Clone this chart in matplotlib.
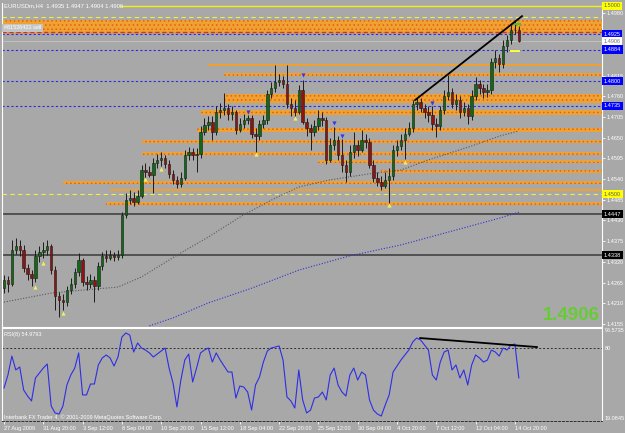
import matplotlib
matplotlib.use("Agg")
import matplotlib.pyplot as plt
import numpy as np
from matplotlib.transforms import blended_transform_factory

plt.rcParams['font.family'] = ['Liberation Sans', 'DejaVu Sans']
plt.rcParams['hatch.linewidth'] = 0.6

# EURUSDm H4 bars, prices written as pips above 1.4000 (price = 1.4 + pips/10000)
first_open_pips = 250
close_pips = [272, 261, 352, 362, 352, 304, 288, 277, 336, 346, 352, 362, 298, 229, 219, 213,
              245, 261, 293, 325, 266, 261, 272, 256, 309, 336, 330, 338, 333, 338, 444, 484,
              490, 479, 495, 564, 559, 551, 583, 591, 596, 580, 554, 538, 527, 543, 604, 612,
              604, 607, 665, 684, 692, 665, 718, 724, 729, 713, 718, 670, 686, 697, 702, 660,
              654, 686, 697, 766, 782, 798, 803, 793, 740, 729, 718, 777, 692, 676, 665, 681,
              702, 697, 591, 631, 644, 604, 577, 559, 612, 631, 617, 644, 639, 577, 543, 532,
              522, 538, 548, 617, 628, 644, 660, 676, 740, 745, 729, 718, 710, 686, 681, 724,
              761, 771, 740, 750, 718, 729, 708, 761, 793, 782, 771, 777, 851, 862, 846, 894,
              910, 936, 935, 906]
high_pips = [285, 282, 378, 383, 378, 365, 314, 298, 352, 362, 373, 378, 367, 309, 240, 235,
             256, 277, 304, 344, 330, 282, 288, 282, 320, 346, 352, 352, 346, 352, 452, 503,
             511, 506, 511, 577, 583, 575, 596, 607, 612, 604, 591, 564, 548, 559, 617, 625,
             623, 623, 681, 702, 708, 708, 734, 742, 769, 740, 734, 724, 702, 713, 710, 710,
             676, 697, 710, 777, 798, 843, 819, 814, 843, 755, 750, 790, 803, 702, 686, 697,
             724, 718, 705, 649, 678, 654, 647, 591, 631, 665, 644, 670, 660, 649, 591, 559,
             548, 559, 569, 631, 644, 660, 676, 692, 750, 755, 755, 740, 734, 734, 702, 734,
             777, 817, 782, 766, 761, 745, 740, 777, 811, 803, 793, 793, 862, 883, 872, 910,
             923, 949, 963, 947]
low_pips = [237, 240, 256, 341, 336, 293, 272, 256, 266, 320, 330, 338, 288, 192, 174, 192,
            203, 235, 250, 282, 256, 245, 250, 213, 245, 298, 320, 325, 322, 325, 330, 436,
            474, 468, 474, 490, 543, 545, 503, 569, 575, 569, 543, 527, 516, 519, 538, 591,
            591, 559, 596, 657, 670, 644, 657, 702, 710, 697, 697, 660, 665, 676, 686, 649,
            612, 644, 676, 686, 755, 771, 787, 782, 729, 708, 708, 713, 686, 654, 617, 654,
            670, 681, 580, 585, 617, 591, 559, 532, 548, 596, 601, 612, 623, 569, 532, 522,
            511, 516, 476, 538, 601, 617, 593, 654, 665, 724, 718, 702, 692, 670, 652, 670,
            713, 750, 729, 724, 702, 708, 686, 697, 750, 766, 755, 758, 766, 835, 825, 835,
            878, 899, 926, 904]

rsi_values = [46.6, 57.4, 73.2, 61.6, 64.1, 44.9, 39.9, 35.8, 54.9, 59.1, 63.2, 66.6, 31.6, 25.8,
              24.9, 31.6, 49.1, 57.4, 63.2, 75.8, 40.8, 40.8, 49.9, 49.9, 65.8, 71.6, 74.1, 71.6,
              64.9, 72.4, 89.1, 92.4, 90.7, 76.6, 84.1, 79.9, 78.2, 75.8, 72.4, 74.9, 77.4, 79.9,
              63.2, 50.8, 30.8, 53.2, 69.9, 74.9, 51.6, 63.2, 75.8, 78.2, 79.9, 68.2, 75.8, 69.9,
              64.9, 59.9, 59.9, 38.2, 48.2, 47.4, 43.2, 28.2, 49.1, 55.7, 68.2, 77.4, 79.9, 80.7,
              81.6, 69.9, 39.1, 35.8, 29.9, 61.6, 36.6, 25.8, 28.2, 38.2, 39.1, 43.2, 36.6, 57.4,
              63.2, 49.1, 43.2, 39.9, 57.4, 63.2, 53.2, 59.9, 57.4, 36.6, 28.2, 24.9, 23.2, 32.4,
              40.8, 59.9, 64.9, 69.9, 74.1, 78.2, 84.9, 88.2, 86.6, 82.4, 78.2, 57.4, 53.2, 68.2,
              76.6, 78.2, 61.6, 65.8, 54.9, 61.6, 49.1, 65.8, 74.1, 71.6, 68.2, 69.9, 78.2, 76.6,
              73.2, 79.9, 78.2, 82.4, 83.2, 54.98]

# moving averages read at a few bars
ma_gray_bars = [0, 12, 20, 29, 35, 45, 52, 60, 68, 75, 83, 93, 101, 108, 119, 126, 131]
ma_gray = [1.4213, 1.4237, 1.4245, 1.4253, 1.4280, 1.4344, 1.4386, 1.4439, 1.4484, 1.4519,
           1.4538, 1.4554, 1.4564, 1.4591, 1.4628, 1.4654, 1.4668]
ma_blue_bars = [37, 43, 52, 63, 75, 88, 101, 113, 126, 131]
ma_blue = [1.4150, 1.4171, 1.4211, 1.4250, 1.4298, 1.4336, 1.4365, 1.4399, 1.4436, 1.4452]

# support / resistance zones: (low, high, first bar)
zones = [(1.4928, 1.4963, -1), (1.4840, 1.4847, 52), (1.4814, 1.4821, 56),
         (1.4742, 1.4766, 56), (1.4710, 1.4724, 50), (1.4665, 1.4676, 49),
         (1.4636, 1.4644, 35), (1.4604, 1.4612, 35), (1.4583, 1.4591, 80),
         (1.4557, 1.4564, 96), (1.4528, 1.4535, 15), (1.4507, 1.4514, 27),
         (1.4471, 1.4480, 26)]
blue_levels = [1.4925, 1.4884, 1.4800, 1.4735]
dark_levels = [1.4447, 1.4338]
yellow_dash_levels = [1.4971, 1.4500]
order_level = 1.4931
bid = 1.4906

fractal_low_bars = [8, 10, 15, 36, 40, 64, 74, 98, 102]
fractal_low_prices = [1.4253, 1.4317, 1.4184, 1.4540, 1.4567, 1.4607, 1.4702, 1.4471, 1.4585]
fractal_high_bars = [62, 76, 84, 86, 109]
fractal_high_prices = [1.4718, 1.4817, 1.4689, 1.4654, 1.4742]

trend_bars = [104.6, 131.8]
trend_prices = [1.4750, 1.4973]
rsi_trend_bars = [105.9, 135.6]
rsi_trend_vals = [88.2, 80.7]

# scale labels not covered by a highlighted price box
price_ticks = [1.4980, 1.4815, 1.4760, 1.4705, 1.4650, 1.4595, 1.4540,
               1.4485, 1.4430, 1.4375, 1.4320, 1.4265, 1.4210, 1.4155]
date_bars = list(range(0, 131, 10))
date_labels = ['27 Aug 2009', '31 Aug 20:00', '3 Sep 12:00', '8 Sep 04:00', '10 Sep 20:00',
               '15 Sep 12:00', '18 Sep 04:00', '22 Sep 20:00', '25 Sep 12:00', '30 Sep 04:00',
               '4 Oct 20:00', '7 Oct 12:00', '12 Oct 04:00', '14 Oct 20:00']

bg = '#a8a8a8'
closes = 1.4 + np.array(close_pips) / 10000
opens = 1.4 + np.array([first_open_pips] + close_pips[:-1]) / 10000
highs = 1.4 + np.array(high_pips) / 10000
lows = 1.4 + np.array(low_pips) / 10000
highs = np.maximum(highs, np.maximum(opens, closes))
lows = np.minimum(lows, np.minimum(opens, closes))
x = np.arange(len(closes))
xlo, xhi = -0.51, 152.16

fig = plt.figure(figsize=(6.25, 4.33), dpi=100, facecolor=bg)
ax = fig.add_axes([2 / 625, 106 / 433, 600 / 625, 324 / 433], facecolor=bg)
ax2 = fig.add_axes([2 / 625, 12 / 433, 600 / 625, 93 / 433], facecolor=bg)

# ---- main price panel
ax.set_xlim(xlo, xhi)
ax.set_ylim(1.41469, 1.50079)
for lo, hi, start in zones:
    frac = max(0, (start - xlo) / (xhi - xlo))
    ax.axhspan(lo, hi, xmin=frac, xmax=1, facecolor='#efa232', edgecolor='#e2601a',
               hatch='....', lw=0, zorder=1)
ax.axhline(order_level, color='#e03010', ls=(0, (3, 2)), lw=1.0, zorder=2)
for lv in blue_levels:
    ax.axhline(lv, color='#2a2ae6', ls=(0, (2, 2)), lw=0.8, zorder=2)
for lv in dark_levels:
    ax.axhline(lv, color='#4a4a4a', lw=1.3, zorder=2)
for lv in yellow_dash_levels:
    ax.axhline(lv, color='#f4f040', ls=(0, (4, 3)), lw=0.8, zorder=2)
ax.axhline(bid, color='#c4c4c4', lw=0.6, zorder=2)
ax.hlines(1.5000, 29.5, xhi, color='#f4f020', lw=1.0, zorder=2)
ax.hlines(1.4952, 129.3, 131.5, color='#33cc33', lw=1.4, zorder=6)
ax.hlines(1.4880, 128.7, 131.3, color='#ffff40', lw=1.4, zorder=6)

ax.plot(ma_gray_bars, ma_gray, color='#5a5a5a', ls=(0, (1, 1.5)), lw=0.8, zorder=2)
ax.plot(ma_blue_bars, ma_blue, color='#3030d8', ls=(0, (1, 1.5)), lw=0.8, zorder=2)

up = closes >= opens
ax.vlines(x, lows, highs, color='#1c1c1c', lw=0.7, zorder=3)
body_h = np.maximum(np.abs(closes - opens), 0.00006)
ax.bar(x[up], body_h[up], bottom=np.minimum(opens, closes)[up], width=0.62,
       color='#0e6a14', edgecolor='#1c1c1c', lw=0.4, zorder=4)
ax.bar(x[~up], body_h[~up], bottom=np.minimum(opens, closes)[~up], width=0.62,
       color='#8e1414', edgecolor='#1c1c1c', lw=0.4, zorder=4)

ax.scatter(fractal_low_bars, fractal_low_prices, marker='^', s=9, color='#f2f060', lw=0, zorder=5)
ax.scatter(fractal_high_bars, fractal_high_prices, marker='v', s=9, color='#3636f0', lw=0, zorder=5)
ax.plot(trend_bars, trend_prices, color='black', lw=1.3, zorder=6)

ax.set_xticks([])
ax.yaxis.tick_right()
ax.set_yticks(price_ticks)
ax.set_yticklabels(['%.4f' % p for p in price_ticks])
ax.tick_params(axis='y', colors='white', labelsize=4, length=2, width=0.6, pad=1.5)
for s in ['left', 'right', 'bottom']:
    ax.spines[s].set_color('white')
    ax.spines[s].set_linewidth(0.8)
ax.spines['top'].set_visible(False)

tr = blended_transform_factory(ax.transAxes, ax.transData)
boxes = [(1.5000, '#ffff00', '#606060'), (1.4925, '#0000ff', 'white'),
         (1.4906, 'white', '#707070'), (1.4884, '#0000ff', 'white'),
         (1.4800, '#0000ff', 'white'), (1.4735, '#0000ff', 'white'),
         (1.4500, '#ffff00', '#606060'), (1.4447, 'black', 'white'),
         (1.4338, 'black', 'white')]
for p, fc, tc in boxes:
    ax.text(1.003, p, '%.4f' % p, transform=tr, ha='left', va='center', fontsize=4,
            color=tc, clip_on=False, zorder=10,
            bbox=dict(boxstyle='square,pad=0.3', fc=fc, ec='none'))

ax.text(0.0035, 0.991, 'EURUSDm,H4  1.4935 1.4947 1.4904 1.4906', transform=ax.transAxes,
        ha='left', va='center', fontsize=4.2, color='white', zorder=10)
ax.text(0.003, 0.923, '#81526421 sell', transform=ax.transAxes, ha='left', va='center',
        fontsize=4, color='white', zorder=10,
        bbox=dict(boxstyle='square,pad=0.3', fc='#c4c4c4', ec='none'))
ax.text(0.902, 0.037, '1.4906', transform=ax.transAxes, ha='left', va='center',
        fontsize=13.4, fontweight='bold', color='#66cc33', zorder=10)

# ---- RSI panel
ax2.set_xlim(xlo, xhi)
ax2.set_ylim(19.0845, 96.5735)
ax2.axhline(80, color='#303030', ls=(0, (2, 2)), lw=0.7)
ax2.plot(x, rsi_values, color='#2e2ee6', lw=0.8)
ax2.plot(rsi_trend_bars, rsi_trend_vals, color='black', lw=1.3, clip_on=False)
ax2.yaxis.tick_right()
ax2.set_yticks([96.5735, 80, 19.0845])
ax2.set_yticklabels(['96.5735', '80', '19.0845'])
ylabs = ax2.get_yticklabels()
ylabs[0].set_va('top')
ylabs[2].set_va('bottom')
ax2.tick_params(axis='y', colors='white', labelsize=4, length=0, pad=2)
ax2.set_xticks(date_bars)
ax2.set_xticklabels(date_labels, ha='left')
ax2.tick_params(axis='x', colors='white', labelsize=4, length=2, width=0.6, pad=1.5)
for s in ['left', 'right', 'top']:
    ax2.spines[s].set_color('white')
    ax2.spines[s].set_linewidth(0.8)
ax2.spines['bottom'].set_color('#303030')
ax2.spines['bottom'].set_linestyle((0, (2, 2)))
ax2.spines['bottom'].set_linewidth(0.7)
ax2.text(0.0035, 0.925, 'RSI(8) 54.9793', transform=ax2.transAxes, ha='left', va='center',
         fontsize=4, color='white')
ax2.text(0.0035, 0.045, 'Interbank FX Trader 4, \u00a9 2001-2009 MetaQuotes Software Corp.',
         transform=ax2.transAxes, ha='left', va='center', fontsize=4, color='white')

fig.savefig('out.png', dpi=100, facecolor=bg)
